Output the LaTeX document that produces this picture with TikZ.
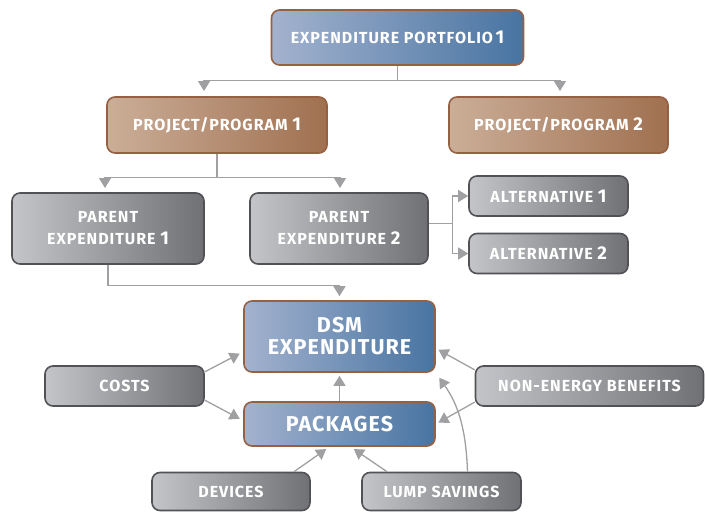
\documentclass[tikz,border=0pt]{standalone}
\usepackage{fontspec}
\setmainfont{Fira Sans}
\usetikzlibrary{arrows.meta,positioning,calc}

\definecolor{bluel}{RGB}{163,178,206}
\definecolor{blued}{RGB}{72,116,162}
\definecolor{brownl}{RGB}{203,174,152}
\definecolor{brownd}{RGB}{160,112,80}
\definecolor{brownline}{RGB}{150,96,66}
\definecolor{greyl}{RGB}{196,197,200}
\definecolor{greyd}{RGB}{112,113,117}
\definecolor{greyline}{RGB}{82,82,86}
\definecolor{conn}{RGB}{160,160,162}

\newcommand{\boxfont}{\fontsize{16}{22}\selectfont\bfseries\addfontfeatures{LetterSpace=6}}
\newcommand{\bigfont}{\fontsize{21.5}{22}\selectfont\bfseries\addfontfeatures{LetterSpace=5}}
\newcommand{\dg}[1]{{\fontsize{18.5}{19}\selectfont #1}}

\begin{document}
\begin{tikzpicture}[
    x=1pt, y=-1pt,
    box/.style={rectangle, rounded corners=8pt, line width=1.6pt, minimum height=40pt, inner sep=0pt, text=white, align=center, font=\boxfont},
    bluebox/.style={box, draw=brownline, left color=bluel, right color=blued},
    brownbox/.style={box, draw=brownline, left color=brownl, right color=brownd},
    greybox/.style={box, draw=greyline, left color=greyl, right color=greyd},
    line/.style={draw=conn, line width=1.3pt},
    arrow/.style={line, -{Triangle[length=10pt,width=12pt]}, conn}
]
\useasboundingbox (0,0) rectangle (705,512);

% tree of expenditures
\node[bluebox, minimum width=252pt, minimum height=55pt] (portfolio) at (397.5,37.5) {EXPENDITURE PORTFOLIO\,\dg{1}};
\node[brownbox, minimum width=220pt, minimum height=56pt] (proj1) at (217,125) {PROJECT/PROGRAM \dg{1}};
\node[brownbox, minimum width=219pt, minimum height=56pt] (proj2) at (558.5,125) {PROJECT/PROGRAM \dg{2}};
\node[greybox, minimum width=192pt, minimum height=71pt] (parent1) at (108,228.5) {PARENT\\EXPENDITURE \dg{1}};
\node[greybox, minimum width=178pt, minimum height=71pt] (parent2) at (339,228.5) {PARENT\\EXPENDITURE \dg{2}};
\node[greybox, minimum width=159pt] (alt1) at (548.5,196) {ALTERNATIVE \dg{1}};
\node[greybox, minimum width=159pt] (alt2) at (548.5,253.5) {ALTERNATIVE \dg{2}};

% DSM expenditure and its inputs
\node[bluebox, font=\bigfont, minimum width=191pt, minimum height=71pt] (dsm) at (339.5,336.5) {DSM\\EXPENDITURE};
\node[bluebox, font=\bigfont, minimum width=191pt, minimum height=44pt] (packages) at (339.5,424) {PACKAGES};
\node[greybox, minimum width=159pt] (costs) at (124.5,386) {COSTS};
\node[greybox, minimum width=228pt] (nonenergy) at (589.5,386) {NON-ENERGY BENEFITS};
\node[greybox, minimum width=158pt, minimum height=38pt] (devices) at (231,491.5) {DEVICES};
\node[greybox, minimum width=159pt, minimum height=38pt] (lump) at (441.5,491.5) {LUMP SAVINGS};

% arrow tips of the tree
\coordinate (t1) at (204,91);
\coordinate (t2) at (560,91);
\coordinate (t3) at (105,188);
\coordinate (t4) at (340,188);

% portfolio to projects
\draw[line] (portfolio.south) -- ++(0,15) coordinate (j1);
\draw[arrow] (j1) -| (t1);
\draw[arrow] (j1) -| (t2);

% project to parents
\draw[line] (proj1.south) -- ++(0,24) coordinate (j2);
\draw[arrow] (j2) -| (t3);
\draw[arrow] (j2) -| (t4);

% parent to alternatives
\draw[line] ([yshift=5pt]parent2.east) -- ++(24,0) coordinate (j3);
\draw[arrow] (j3) |- (alt1.west);
\draw[arrow] (j3) |- (alt2.west);

% parent to DSM
\draw[line] (parent1.south) -- ++(0,21) coordinate (j4);
\draw[arrow, shorten >=4pt] (j4) -| (dsm.north);

% inputs
\draw[arrow, shorten >=4pt] (costs.10) -- (dsm.189);
\draw[arrow, shorten >=4pt] (costs.-10) -- (packages.178);
\draw[arrow, shorten >=3pt] (packages.north) -- (dsm.south);
\draw[arrow, shorten >=3pt] (nonenergy.172) -- (dsm.-7);
\draw[arrow, shorten >=3pt] (nonenergy.188) -- (packages.east);
\draw[arrow, shorten >=4pt] ([xshift=63pt]devices.north) -- ([xshift=-10pt]packages.south);
\draw[arrow, shorten >=4pt] ([xshift=-54.5pt]lump.north) -- ([xshift=11pt]packages.south);
\draw[arrow, shorten >=6pt] ([xshift=26pt]lump.north) to[out=92, in=-55] (dsm.south east);

\end{tikzpicture}
\end{document}
